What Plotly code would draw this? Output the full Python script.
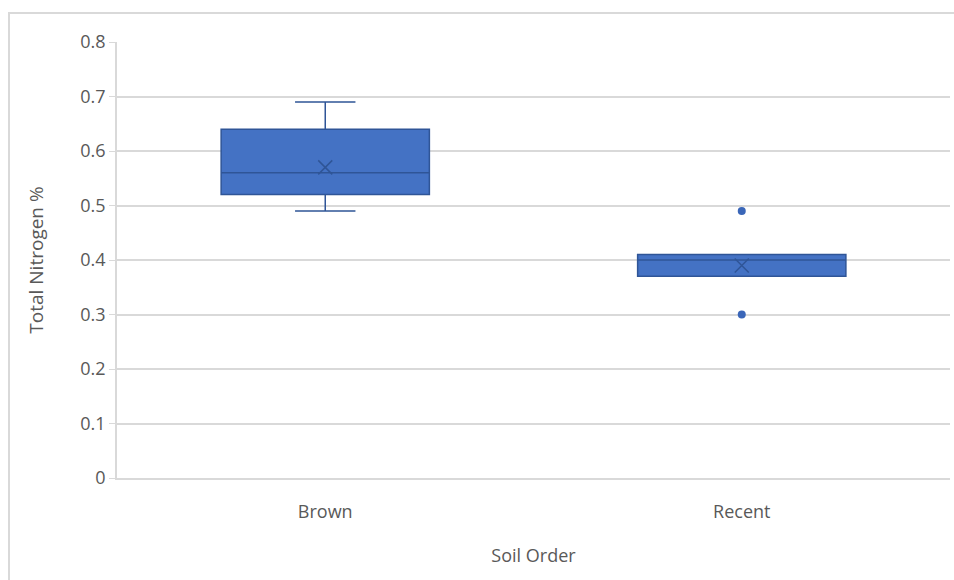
import plotly.graph_objects as go

categories = ["Brown", "Recent"]
q1 = [0.52, 0.37]
median = [0.56, 0.40]
q3 = [0.64, 0.41]
lower_whisker = [0.49, 0.37]
upper_whisker = [0.69, 0.41]
means = [0.57, 0.39]
outlier_cats = ["Recent", "Recent"]
outlier_vals = [0.49, 0.30]
y_ticks = [0, 0.1, 0.2, 0.3, 0.4, 0.5, 0.6, 0.7, 0.8]

FILL = "#4472C4"
EDGE = "#2F5597"
GRAY = "#595959"
FONT = "Open Sans"

fig = go.Figure()
fig.add_trace(go.Box(
    x=categories, q1=q1, median=median, q3=q3,
    lowerfence=lower_whisker, upperfence=upper_whisker,
    fillcolor=FILL, line=dict(color=EDGE, width=1.5),
    width=0.5, whiskerwidth=0.29, boxpoints=False, hoverinfo="skip",
    showlegend=False,
))
fig.add_trace(go.Scatter(
    x=categories, y=means, mode="markers",
    marker=dict(symbol="x-thin", size=14, line=dict(color=EDGE, width=1.5)),
    showlegend=False, hoverinfo="skip",
))
fig.add_trace(go.Scatter(
    x=outlier_cats, y=outlier_vals, mode="markers",
    marker=dict(symbol="circle", size=8, color="#3A66B8"),
    showlegend=False, hoverinfo="skip",
))

L, R, T, B = 117, 4, 42, 102
W, H = 954, 580
pw, ph = W - L - R, H - T - B

def px_x(px):
    return (px - L) / pw

def px_y(py):
    return (H - B - py) / ph

fig.add_shape(type="rect", xref="paper", yref="paper",
              x0=px_x(9), x1=px_x(1000), y0=px_y(700), y1=px_y(13),
              line=dict(color="#D9D9D9", width=2), layer="below")

fig.update_layout(
    width=W, height=H,
    margin=dict(l=L, r=R, t=T, b=B),
    paper_bgcolor="white", plot_bgcolor="white",
    font=dict(family=FONT, color=GRAY),
    xaxis=dict(
        type="category", categoryorder="array", categoryarray=categories,
        range=[-0.5, 1.5],
        showgrid=False, showline=True, linecolor="#D9D9D9", linewidth=1.5,
        tickfont=dict(size=18, color=GRAY), ticks="", ticklabelstandoff=17,
        title=dict(text="Soil Order", font=dict(size=18, color=GRAY), standoff=27),
    ),
    yaxis=dict(
        range=[0, 0.8], tickvals=y_ticks, ticktext=[f"{v:g}" for v in y_ticks],
        showgrid=True, gridcolor="#D9D9D9", gridwidth=1.5,
        showline=True, linecolor="#D9D9D9", linewidth=1.5,
        ticks="outside", ticklen=6, tickcolor="#D9D9D9",
        tickfont=dict(size=18, color=GRAY), zeroline=False,
        title=dict(text="Total Nitrogen %", font=dict(size=19, color=GRAY), standoff=32),
    ),
)

fig.write_html("out.html", config={"displayModeBar": False},
               post_script="document.body.style.margin='0';")
